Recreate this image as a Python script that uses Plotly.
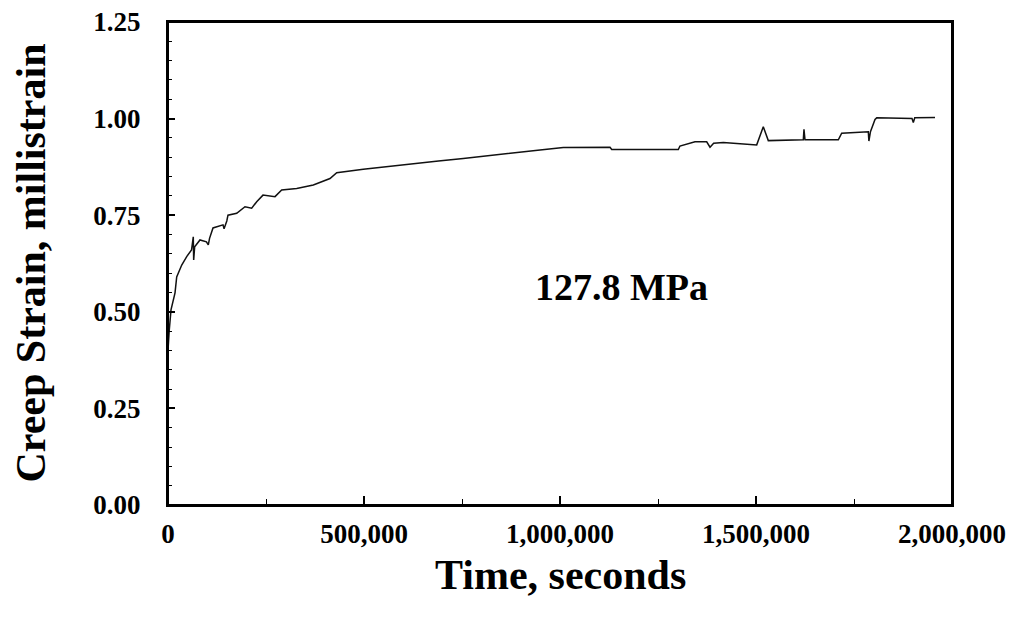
import plotly.graph_objects as go

time_s = [0, 0, 3000, 7650, 17900, 22200, 35000, 47700, 60000, 64500, 65500, 68000,
          81600, 98000, 102800, 106000, 114800, 140300, 143000, 150000, 153000,
          175300, 196400, 213500, 226300, 242300, 273000, 290000, 328300, 370700,
          413300, 430400, 498200, 587500, 625800, 690000, 753300, 820000, 880900,
          949000, 1008400, 1127600, 1131900, 1301800, 1306000, 1344400, 1374200,
          1382700, 1392000, 1416600, 1501800, 1518600, 1531400, 1620700, 1622400,
          1625000, 1710000, 1718600, 1786500, 1788000, 1792000, 1803600, 1808000,
          1898000, 1901300, 1905000, 1956600]
strain = [0.0, 0.40, 0.45, 0.505, 0.549, 0.59, 0.621, 0.643, 0.66, 0.694, 0.634, 0.668,
          0.686, 0.681, 0.673, 0.690, 0.717, 0.725, 0.715, 0.735, 0.75,
          0.755, 0.772, 0.768, 0.785, 0.802, 0.798, 0.815, 0.819, 0.828,
          0.845, 0.860, 0.869, 0.878, 0.882, 0.890, 0.897, 0.905, 0.912,
          0.919, 0.925, 0.926, 0.920, 0.920, 0.929, 0.940, 0.940,
          0.926, 0.936, 0.938, 0.932, 0.979, 0.943, 0.945, 0.972,
          0.945, 0.945, 0.962, 0.966, 0.942, 0.966, 0.998, 1.002,
          1.000, 0.990, 1.002, 1.003]

x_ticks = [0, 500000, 1000000, 1500000, 2000000]
x_labels = ["0", "500,000", "1,000,000", "1,500,000", "2,000,000"]
y_ticks = [0, 0.25, 0.5, 0.75, 1.0, 1.25]
y_labels = ["0.00", "0.25", "0.50", "0.75", "1.00", "1.25"]

FONT = "Liberation Serif"

fig = go.Figure()
fig.add_trace(go.Scatter(x=time_s, y=strain, mode="lines",
                         line=dict(color="#111111", width=1.5), showlegend=False))

fig.add_annotation(x=1158000, y=0.564, xref="x", yref="y",
                   text="127.8 MPa", showarrow=False,
                   font=dict(family=FONT, size=38, color="black", weight="bold"))
fig.add_annotation(x=0.5, y=-0.145, xref="paper", yref="paper",
                   text="Time, seconds", showarrow=False,
                   xanchor="center", yanchor="middle",
                   font=dict(family=FONT, size=42, color="black", weight="bold"))
fig.add_annotation(x=-0.176, y=0.5, xref="paper", yref="paper",
                   text="Creep Strain, millistrain", showarrow=False, textangle=-90,
                   xanchor="center", yanchor="middle",
                   font=dict(family=FONT, size=42, color="black", weight="bold"))

fig.update_layout(
    width=998, height=609,
    margin=dict(l=160, r=54, t=14, b=112, pad=0, autoexpand=False),
    paper_bgcolor="white", plot_bgcolor="white",
    font=dict(family=FONT, color="black"),
)
fig.update_xaxes(
    range=[0, 2000000], tickvals=x_ticks, ticktext=x_labels,
    ticks="inside", ticklen=9, tickwidth=1.5, tickcolor="black",
    minor=dict(dtick=250000, ticks="inside", ticklen=6, tickwidth=1, tickcolor="black"),
    showline=True, linecolor="black", linewidth=2, mirror=True,
    showgrid=False, zeroline=False, automargin=False,
    tickfont=dict(family=FONT, size=27, color="black", weight="bold"),
    ticklabelstandoff=4,
)
fig.update_yaxes(
    range=[0, 1.25], tickvals=y_ticks, ticktext=y_labels,
    ticks="inside", ticklen=7, tickwidth=1.5, tickcolor="black",
    minor=dict(dtick=0.05, ticks="inside", ticklen=4, tickwidth=1, tickcolor="black"),
    showline=True, linecolor="black", linewidth=2, mirror=True,
    showgrid=False, zeroline=False, automargin=False,
    tickfont=dict(family=FONT, size=27, color="black", weight="bold"),
    ticklabelstandoff=20, ticklabeloverflow="allow",
)
fig.add_shape(type="rect", xref="paper", yref="paper", x0=0, y0=0, x1=1, y1=1,
              line=dict(color="black", width=2), fillcolor="rgba(0,0,0,0)", layer="above")

fig.write_html("out.html")
